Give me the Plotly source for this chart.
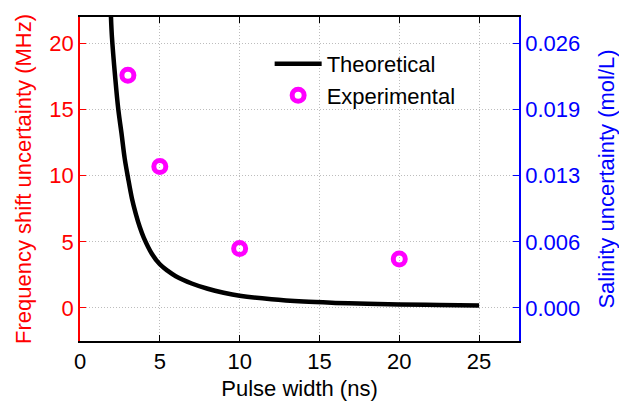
import plotly.graph_objects as go

# Theoretical curve
pulse_theory = [1.94, 2.0, 2.2, 2.4, 2.6, 2.8, 3.0, 3.25, 3.5, 3.75, 4.0, 4.5, 5.0, 5.5,
                6.0, 7.0, 8.0, 9.0, 10, 12, 14, 16, 18, 20, 22.5, 25]
freq_theory = [22.0, 20.5, 17.5, 15.0, 13.2, 11.3, 9.9, 8.3, 7.1, 6.1, 5.3, 4.1, 3.3, 2.8,
               2.4, 1.85, 1.45, 1.15, 0.92, 0.65, 0.48, 0.38, 0.31, 0.26, 0.22, 0.19]

# Experimental points
pulse_exp = [3, 5, 10, 20]
freq_exp = [17.6, 10.7, 4.5, 3.7]

# Axis ticks
x_ticks = [0, 5, 10, 15, 20, 25]
y_ticks = [0, 5, 10, 15, 20]
sal_per_mhz = 0.0013
sal_ticks = [0, 0.0065, 0.013, 0.0195, 0.026]
sal_ticktext = ["0.000", "0.006", "0.013", "0.019", "0.026"]

FONT = "Liberation Sans, Arial, sans-serif"
RED = "#ff0000"
BLUE = "#0000ff"
GRID = "#bdbdbd"
GRIDDASH = "1px,2px"

fig = go.Figure()
fig.add_trace(go.Scatter(
    x=pulse_theory, y=freq_theory, mode="lines", name="Theoretical",
    line=dict(color="black", width=4.5), line_shape="spline"))
fig.add_trace(go.Scatter(
    x=pulse_exp, y=freq_exp, mode="markers", name="Experimental",
    marker=dict(symbol="circle-open", size=12, color="#ff00ff",
                line=dict(color="#ff00ff", width=5))))
fig.add_trace(go.Scatter(x=[None], y=[None], yaxis="y2", showlegend=False,
                         hoverinfo="skip"))

fig.update_layout(
    width=619, height=403,
    margin=dict(l=80, r=100, t=17, b=62),
    paper_bgcolor="white", plot_bgcolor="white",
    font=dict(family=FONT, size=22, color="black"),
    showlegend=True,
    legend=dict(x=0.432, y=0.92, xanchor="left", yanchor="top",
                bgcolor="rgba(0,0,0,0)", font=dict(size=22), itemwidth=47,
                tracegroupgap=0),
    xaxis=dict(range=[0, 27.5], tickvals=x_ticks, ticks="inside", ticklen=6,
               tickcolor="black", showline=True, linecolor="black", linewidth=1.5,
               mirror="ticks", showgrid=True, gridcolor=GRID, griddash=GRIDDASH,
               gridwidth=1, zeroline=False, automargin=False,
               tickfont=dict(size=22, color="black"),
               title=dict(text="Pulse width (ns)", font=dict(size=22), standoff=7)),
    yaxis=dict(range=[-2.5, 22], tickvals=y_ticks, ticks="inside", ticklen=6,
               tickcolor=RED, showline=True, linecolor=RED, linewidth=1.5,
               showgrid=True, gridcolor=GRID, griddash=GRIDDASH, gridwidth=1,
               zeroline=False, tickfont=dict(size=22, color=RED),
               ticklabelstandoff=0, automargin=False,
               title=dict(text="Frequency shift uncertainty (MHz)",
                          font=dict(size=22, color=RED), standoff=12)),
    yaxis2=dict(overlaying="y", side="right",
                range=[-2.5 * sal_per_mhz, 22 * sal_per_mhz],
                tickvals=sal_ticks, ticktext=sal_ticktext, ticks="inside",
                ticklen=6, tickcolor=BLUE, showline=True, linecolor=BLUE,
                linewidth=1.5, showgrid=False, zeroline=False, automargin=False,
                tickfont=dict(size=22, color=BLUE), ticklabelstandoff=0,
                title=dict(text="Salinity uncertainty (mol/L)",
                           font=dict(size=22, color=BLUE), standoff=20)),
)

fig.write_html("out.html",
               config={"displayModeBar": False},
               post_script="document.body.style.margin='0px';"
                           "document.body.style.overflow='hidden';")
